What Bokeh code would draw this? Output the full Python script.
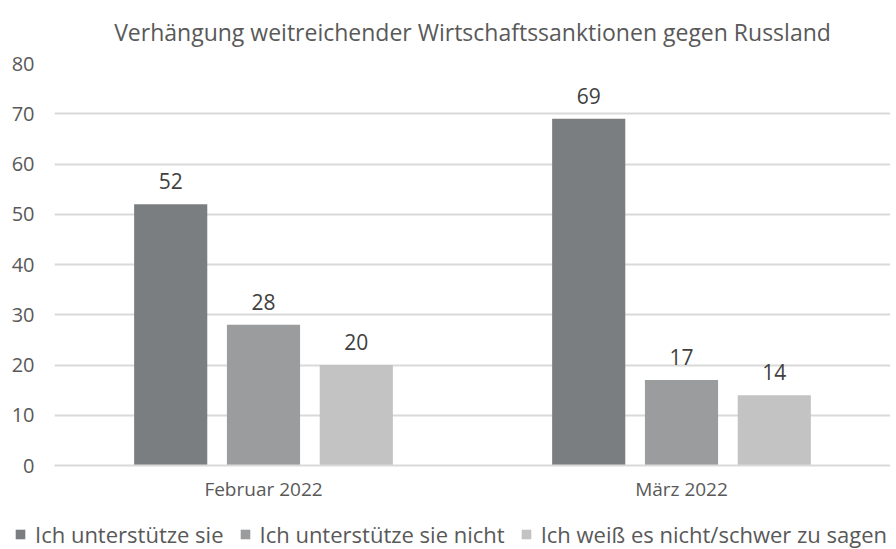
from bokeh.plotting import figure
from bokeh.layouts import column
from bokeh.models import ColumnDataSource, FactorRange, Legend, LegendItem, Range1d, FixedTicker
from bokeh.transform import dodge
from bokeh.core.properties import value
from bokeh.embed import file_html
from bokeh.resources import INLINE

# ---- data ----
categories = ["Februar 2022", "März 2022"]
series_names = ["Ich unterstütze sie", "Ich unterstütze sie nicht", "Ich weiß es nicht/schwer zu sagen"]
support = [52, 69]
oppose = [28, 17]
unsure = [20, 14]
y_ticks = [0, 10, 20, 30, 40, 50, 60, 70, 80]
title_text = "Verhängung weitreichender Wirtschaftssanktionen gegen Russland"

FONT = "Open Sans"
colors = ["#7b7e81", "#9a9c9d", "#c2c3c2"]
offsets = [-0.222, 0.0, 0.222]
columns = ["support", "oppose", "unsure"]

source = ColumnDataSource(dict(
    cat=categories,
    support=support, oppose=oppose, unsure=unsure,
    support_lbl=[str(v) for v in support],
    oppose_lbl=[str(v) for v in oppose],
    unsure_lbl=[str(v) for v in unsure],
))

p = figure(x_range=FactorRange(*categories), y_range=Range1d(0, 80),
           width=890, height=505, output_backend="svg", toolbar_location=None,
           min_border_left=54, min_border_right=0, min_border_top=63, min_border_bottom=40)

p.title.text = title_text
p.title.align = "center"
p.title.vertical_align = "top"
p.title.text_font = FONT
p.title.text_font_size = "23px"
p.title.text_font_style = "normal"
p.title.text_color = "#595959"
p.title.standoff = 27

p.outline_line_color = None
p.xgrid.grid_line_color = None
p.ygrid.grid_line_color = "#d9d9d9"
p.ygrid.grid_line_width = 2

p.yaxis.ticker = FixedTicker(ticks=y_ticks)
p.yaxis.axis_line_color = None
p.yaxis.major_tick_line_color = None
p.yaxis.minor_tick_line_color = None
p.yaxis.major_label_text_font = FONT
p.yaxis.major_label_text_font_size = "20px"
p.yaxis.major_label_text_color = "#595959"
p.yaxis.major_label_standoff = 14

p.xaxis.axis_line_color = "#d9d9d9"
p.xaxis.axis_line_width = 2
p.xaxis.major_tick_line_color = None
p.xaxis.minor_tick_line_color = None
p.xaxis.major_label_text_font = FONT
p.xaxis.major_label_text_font_size = "19px"
p.xaxis.major_label_text_color = "#595959"
p.xaxis.major_label_standoff = 4

for col, off, c in zip(columns, offsets, colors):
    p.vbar(x=dodge("cat", off, range=p.x_range), top=col, width=0.175,
           fill_color=c, line_color=None, source=source)
    p.text(x=dodge("cat", off, range=p.x_range), y=col, text=col + "_lbl", source=source,
           text_align="center", text_baseline="bottom", y_offset=-15,
           text_font=value(FONT), text_font_size="21px", text_color="#404040")

# ---- legend strip (legend proxies lie outside the visible range) ----
lg = figure(width=890, height=44, output_backend="svg", toolbar_location=None,
            x_range=Range1d(0, 1), y_range=Range1d(0, 1),
            x_axis_location=None, y_axis_location=None,
            min_border_left=0, min_border_right=0, min_border_top=0, min_border_bottom=0)
lg.frame_align = False
lg.grid.visible = False
lg.outline_line_color = None
legend_renderers = [lg.vbar(x=[-10], top=[-10], width=0.1, fill_color=c, line_color=None) for c in colors]
legend = Legend(items=[LegendItem(label=n, renderers=[r]) for n, r in zip(series_names, legend_renderers)],
                orientation="horizontal", location=(14, 0),
                glyph_width=12, glyph_height=12, label_standoff=9, spacing=15,
                label_text_font=FONT, label_text_font_size="22px", label_text_color="#595959",
                border_line_color=None, background_fill_alpha=0, padding=0, margin=0)
lg.add_layout(legend)

layout = column(p, lg, spacing=0)
open("out.html", "w").write(file_html(layout, INLINE))
